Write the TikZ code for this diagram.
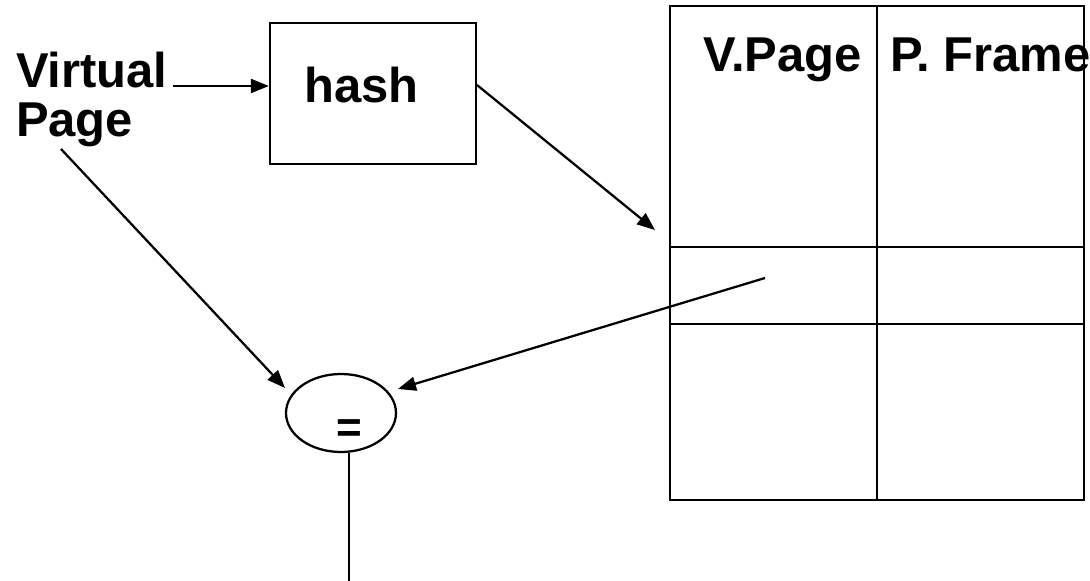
\documentclass[tikz,border=0pt]{standalone}
\usepackage{fontspec}
\setmainfont{Liberation Sans}
\usetikzlibrary{arrows.meta,shapes.geometric}
\begin{document}
\begin{tikzpicture}[x=0.75pt,y=-0.75pt,line width=1.7pt,
  lbl/.style={font=\fontsize{36.7}{44}\selectfont\bfseries,inner sep=0pt,anchor=base west},
  arr/.style={-{Triangle[length=13.5pt,width=10.5pt]}},
  boxstyle/.style={draw,inner sep=0pt}]
\useasboundingbox (0,0) rectangle (1090,581);

% input label
\node[lbl] (vtxt) at (15,88) {Virtual};
\node[lbl] (ptxt) at (15,137) {Page};

% hash function box
\node[boxstyle,minimum width=154.5pt,minimum height=105.75pt] (hash) at (373,93.5) {};
\node[lbl] (hashtxt) at (303,103) {hash};

% page table
\coordinate (tl) at (670,6);
\coordinate (br) at (1084,500);
\draw (tl) rectangle (br);
\draw (877,6) -- (877,500);
\draw (670,247) -- (1084,247);
\draw (670,324) -- (1084,324);
\node[lbl] (vpage) at (702,72) {V.Page};
\node[lbl] (pframe) at (889,72) {P. Frame};
\coordinate (entry) at (765,278);

% comparator
\node[boxstyle,ellipse,minimum width=82.5pt,minimum height=58.5pt] (eq) at (341,413) {};
\node[lbl,font=\fontsize{33}{40}\selectfont\bfseries] (eqtxt) at (335,442) {=};

% connectors
\coordinate (vpout) at (173,86);
\draw[arr] (vpout) -- (vpout -| hash.west);
\coordinate (hashout) at (477,85);
\coordinate (rowin) at (655,230);
\draw[arr] (hashout) -- (rowin);
\coordinate (vpdown) at (61,149);
\coordinate (eqinL) at (285,388);
\draw[arr] (vpdown) -- (eqinL);
\coordinate (eqinR) at (398,389);
\draw[arr] (entry) -- (eqinR);
\draw ([xshift=6pt]eq.south) -- ++(0,129);
\end{tikzpicture}
\end{document}
